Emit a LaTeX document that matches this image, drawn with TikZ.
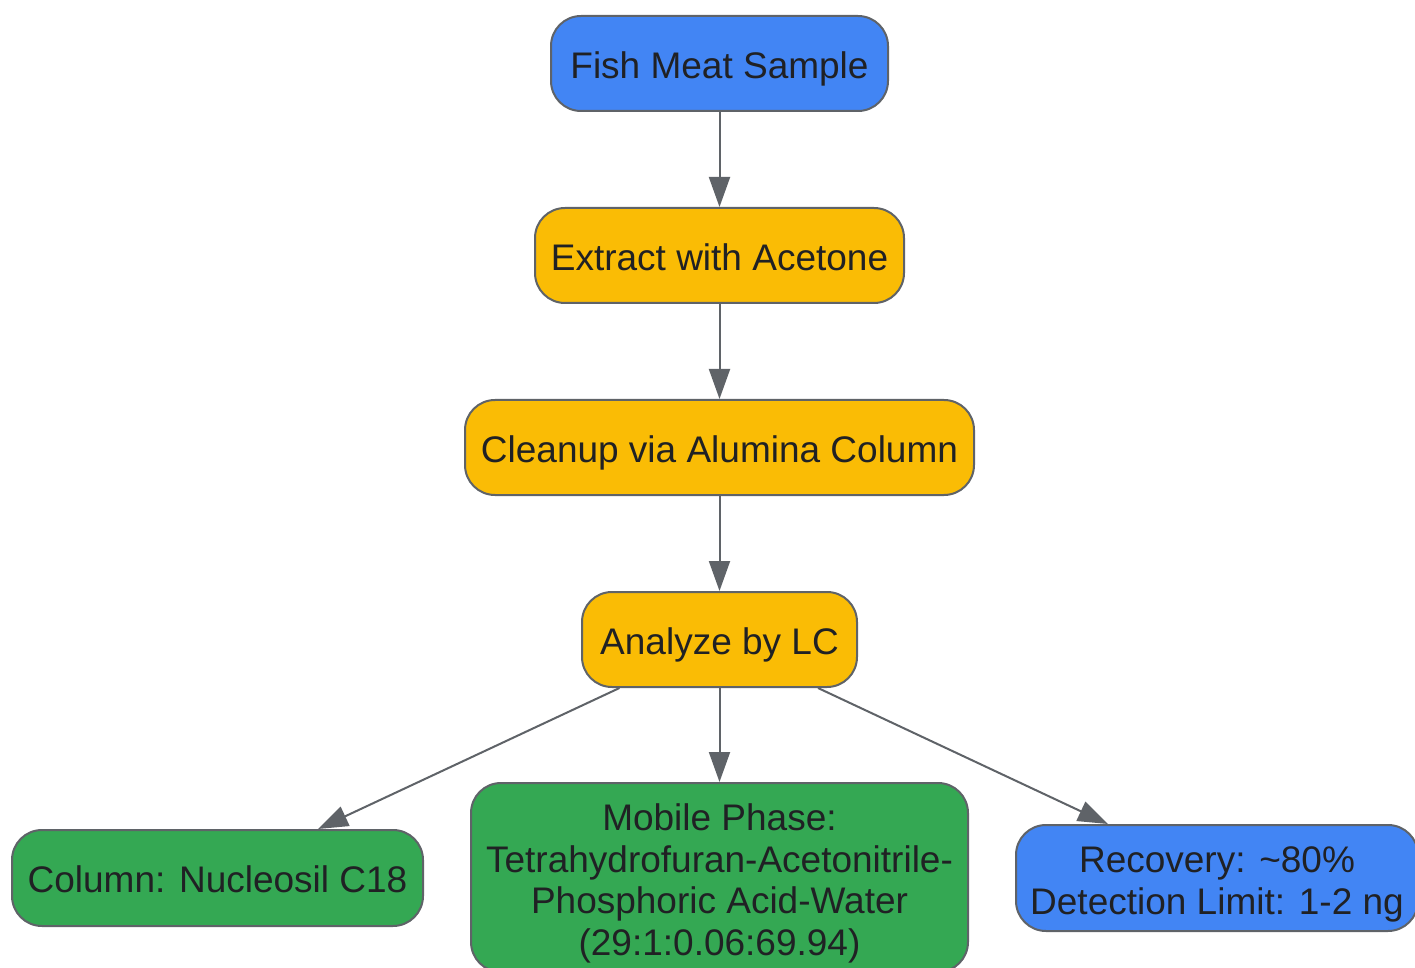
\documentclass[tikz,border=0pt]{standalone}
\usepackage{fontspec}
\setmainfont{Liberation Sans}
\usetikzlibrary{arrows.meta,calc}
\definecolor{gblue}{HTML}{4285F4}
\definecolor{gyellow}{HTML}{FABC05}
\definecolor{ggreen}{HTML}{34A853}
\definecolor{edgegray}{HTML}{5F6368}
\definecolor{txt}{HTML}{202124}
\newcommand\boxtext[2]{\raisebox{#1}[\height][\depth]{\begin{tabular}{@{}c@{}}#2\end{tabular}}}
\tikzset{
  box/.style={draw=edgegray, line width=1pt, rounded corners=15pt, align=center,
    text=txt, font=\fontsize{18.5}{20.8}\selectfont, inner sep=0pt},
  bluebox/.style={box, fill=gblue},
  yellowbox/.style={box, fill=gyellow},
  greenbox/.style={box, fill=ggreen},
  conn/.style={draw=edgegray, line width=1pt, -{Triangle[length=15pt,width=10.5pt]}}
}
\begin{document}
\begin{tikzpicture}[x=0.5pt,y=-0.5pt]
\useasboundingbox (0,0) rectangle (1415,968);
\node[bluebox, minimum width=168.5pt, minimum height=47.5pt] (fish) at (719.5,63.5) {\boxtext{-3.2pt}{Fish Meat Sample}};
\node[yellowbox, minimum width=184.5pt, minimum height=47.5pt] (ext) at (719.5,255.5) {\boxtext{-3.2pt}{Extract with Acetone}};
\node[yellowbox, minimum width=254.5pt, minimum height=47.5pt] (clean) at (719.5,447.5) {\boxtext{-3.4pt}{Cleanup via Alumina Column}};
\node[yellowbox, minimum width=137.5pt, minimum height=47.5pt] (lc) at (719.5,639.5) {\boxtext{-3.4pt}{Analyze by LC}};
\node[greenbox, minimum width=205.5pt, minimum height=48pt] (col) at (217.5,878) {\boxtext{-3pt}{Column: Nucleosil C18}};
\node[greenbox, minimum width=248.5pt, minimum height=94.5pt] (mob) at (719.5,877.5) {\boxtext{-3.5pt}{Mobile Phase:\\Tetrahydrofuran-Acetonitrile-\\Phosphoric Acid-Water\\(29:1:0.06:69.94)}};
\node[bluebox, minimum width=201pt, minimum height=53pt] (rec) at (1217,878) {\boxtext{-3.5pt}{Recovery: \textasciitilde80\%\\Detection Limit: 1-2 ng}};
\draw[conn] (fish) -- (ext);
\draw[conn] (ext) -- (clean);
\draw[conn] (clean) -- (lc);
\draw[conn] (lc) -- (mob);
\draw[conn] ([xshift=-50pt]lc.south) -- ([xshift=50.25pt]col.north);
\draw[conn] ([xshift=49.25pt]lc.south) -- ([xshift=-54.5pt]rec.north);
\end{tikzpicture}
\end{document}
